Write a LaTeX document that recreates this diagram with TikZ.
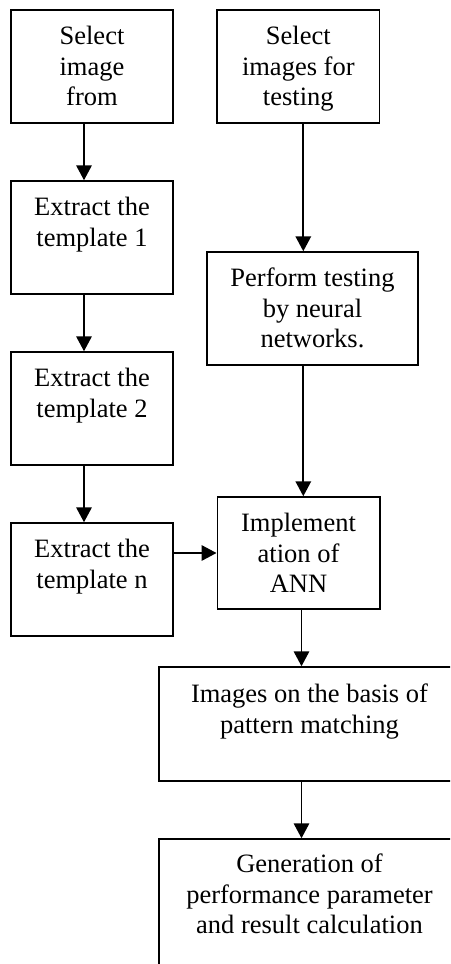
\documentclass[tikz,border=0pt]{standalone}
\usepackage{fontspec}
\setmainfont{Liberation Serif}
\usetikzlibrary{arrows.meta}

\tikzset{
  stepbox/.style={draw=black, line width=1.5pt, rectangle, inner sep=0pt, minimum height=113pt},
  steptext/.style={anchor=north, inner sep=0pt, align=center,
    font=\fontsize{26.5pt}{30.7pt}\selectfont},
  flow/.style={draw=black, line width=1.8pt, -{Triangle[length=15pt,width=15.5pt]}}
}

\begin{document}
\begin{tikzpicture}[x=1pt, y=-1pt]
  \useasboundingbox (0,0) rectangle (450,964);
  \clip (0,0) rectangle (450,964);
  \fill[white] (0,0) rectangle (450,964);

  % left column: template extraction
  \node[stepbox, minimum width=162pt] (a) at (92,66.5) {};
  \node[stepbox, minimum width=162pt] (c) at (92,237.5) {};
  \node[stepbox, minimum width=162pt] (e) at (92,408.5) {};
  \node[stepbox, minimum width=162pt] (f) at (92,579.5) {};

  % right column: testing
  \node[stepbox, minimum width=162.5pt] (b) at (298.3,66.5) {};
  \node[stepbox, minimum width=211pt] (d) at (312.5,308.5) {};
  \node[stepbox, minimum width=162.5pt, minimum height=112pt] (g) at (298.5,553) {};

  % wide result boxes
  \node[stepbox, minimum width=301pt, minimum height=114pt] (h) at (309.5,724) {};
  \node[stepbox, minimum width=301pt, minimum height=140pt] (i) at (309.5,909) {};

  % labels
  \node[steptext] (ta) at (a.north) {\rule{0pt}{35pt}Select\\image\\from};
  \node[steptext] (tb) at (b.north) {\rule{0pt}{35pt}Select\\images for\\testing};
  \node[steptext] (tc) at (c.north) {\rule{0pt}{35pt}Extract the\\template 1};
  \node[steptext] (td) at (d.north) {\rule{0pt}{35pt}Perform testing\\by neural\\networks.};
  \node[steptext] (te) at (e.north) {\rule{0pt}{35pt}Extract the\\template 2};
  \node[steptext] (tf) at (f.north) {\rule{0pt}{35pt}Extract the\\template n};
  \node[steptext] (tg) at (g.north) {\rule{0pt}{35pt}Implement\\ation of\\ANN};
  \node[steptext] (th) at (h.north) {\rule{0pt}{36pt}Images on the basis of\\pattern matching};
  \node[steptext] (ti) at (i.north) {\rule{0pt}{34pt}Generation of\\performance parameter\\and result calculation};

  % connectors
  \coordinate (lx) at ([xshift=-8pt]a.south);
  \coordinate (rx) at ([xshift=5pt]b.south);
  \coordinate (gx) at ([xshift=3pt]g.south);

  \draw[flow] (lx) -- (lx |- c.north);
  \draw[flow] (lx |- c.south) -- (lx |- e.north);
  \draw[flow] (lx |- e.south) -- (lx |- f.north);
  \draw[flow] (rx) -- (rx |- d.north);
  \draw[flow] (rx |- d.south) -- (rx |- g.north);
  \draw[flow] (f.east |- g.west) -- (g.west);
  \draw[flow] (gx) -- (gx |- h.north);
  \draw[flow] (gx |- h.south) -- (gx |- i.north);
\end{tikzpicture}
\end{document}
